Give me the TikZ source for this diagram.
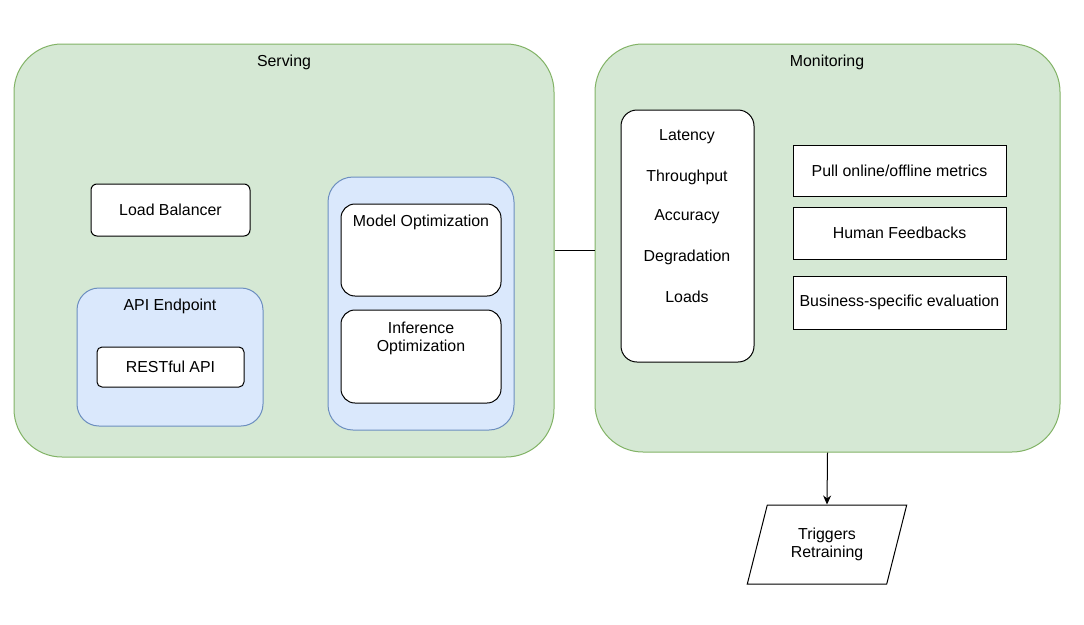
\documentclass[tikz,border=0pt]{standalone}
\usepackage{fontspec}
\setmainfont{Liberation Sans}
\usetikzlibrary{positioning,shapes.geometric,arrows.meta}

\definecolor{greenfill}{HTML}{D5E8D4}
\definecolor{greenline}{HTML}{82B366}
\definecolor{bluefill}{HTML}{DAE8FC}
\definecolor{blueline}{HTML}{6C8EBF}

\begin{document}
\begin{tikzpicture}[x=1pt,y=-1pt,line width=1pt,
	font=\fontsize{15.9}{18.5}\selectfont,
	stage/.style={draw=greenline,fill=greenfill,rounded corners=48pt,inner sep=0pt},
	group/.style={draw=blueline,fill=bluefill,inner sep=0pt},
	box/.style={draw=black,fill=white,inner sep=0pt},
	label/.style={inner sep=0pt,align=center}]

\useasboundingbox (0,0) rectangle (1084,624);

% serving
\node[stage,minimum width=540pt,minimum height=413pt] (serving) at (284,250.5) {};
\node[label] (servingtitle) at (284,62) {Serving};

\node[box,rounded corners=6pt,minimum width=159pt,minimum height=52pt] (balancer) at (170.5,210) {Load Balancer};

\node[group,rounded corners=22pt,minimum width=186pt,minimum height=138pt] (endpoint) at (170,357) {};
\node[label] (endpointtitle) at (170,306) {API Endpoint};
\node[box,rounded corners=5pt,minimum width=147pt,minimum height=40pt] (restful) at (170.5,367) {RESTful API};

\node[group,rounded corners=25pt,minimum width=186pt,minimum height=253pt] (optim) at (421,303.5) {};
\node[box,rounded corners=14pt,minimum width=160pt,minimum height=92pt] (modelopt) at (421,250) {};
\node[label] (modeltitle) at (421,222) {Model Optimization};
\node[box,rounded corners=14pt,minimum width=160pt,minimum height=93pt] (inferopt) at (421,356.5) {};
\node[label] (infertitle) at (421,338.5) {Inference\\Optimization};

% monitoring
\node[stage,minimum width=465pt,minimum height=408pt] (monitoring) at (827.5,248) {};
\node[label] (monitoringtitle) at (827,62) {Monitoring};

\node[box,rounded corners=16pt,minimum width=133pt,minimum height=252pt] (metrics) at (687.5,236) {};
\foreach \t [count=\i from 0] in {Latency,Throughput,Accuracy,Degradation,Loads}
{
	\node[label] (metric\i) at (687,137+40*\i) {\t};
}

\node[box,minimum width=213pt,minimum height=51pt] (pull) at (899.5,170.5) {Pull online/offline metrics};
\node[box,minimum width=213pt,minimum height=52pt] (human) at (899.5,233) {Human Feedbacks};
\node[box,minimum width=213pt,minimum height=53pt] (business) at (899.5,302.5) {Business-specific evaluation};

\node[draw=black,fill=white,trapezium,trapezium left angle=70,trapezium right angle=110,
	trapezium stretches=true,minimum width=160pt,minimum height=79pt,inner sep=0pt,align=center]
	(retrain) at (827,544.5) {Triggers\\Retraining};

\draw (serving.east) -- (serving.east -| monitoring.west);
\draw[-{Stealth[length=9pt,width=8pt]}] (monitoring.south) -- (retrain.north);

\end{tikzpicture}
\end{document}
